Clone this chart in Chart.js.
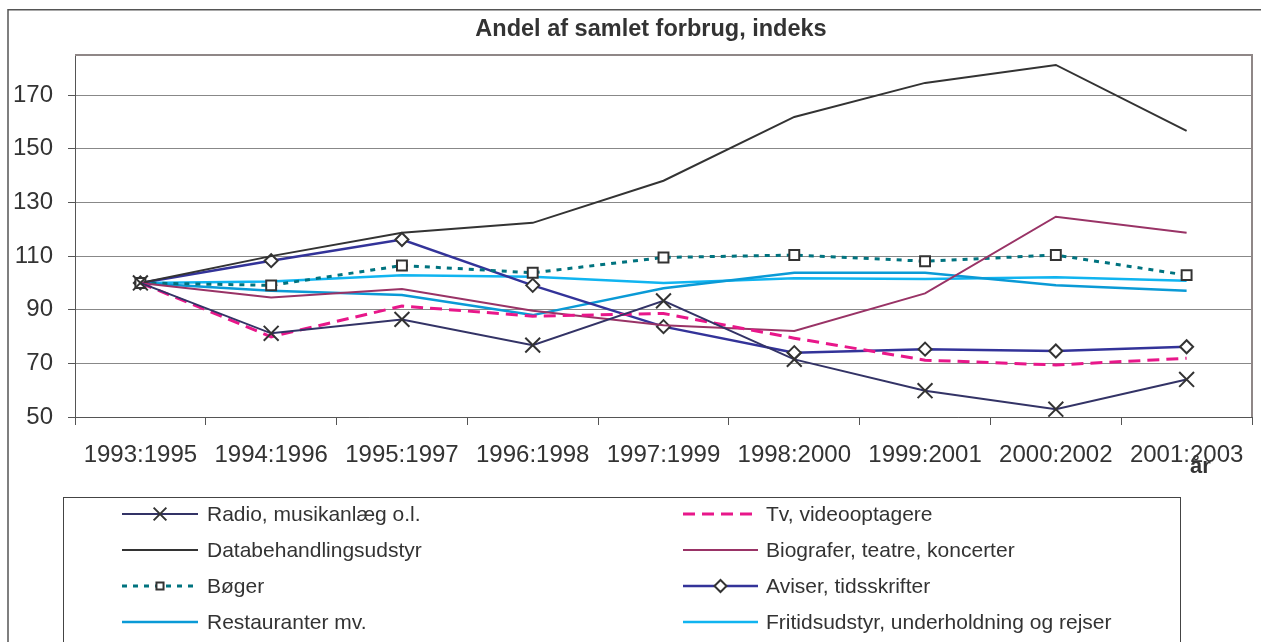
<!DOCTYPE html>
<html><head><meta charset="utf-8">
<script src="https://cdn.jsdelivr.net/npm/chart.js"></script>
<style>
html,body{margin:0;padding:0;background:#fff;overflow:hidden;width:1261px;height:642px}
canvas{position:absolute;left:0;top:0}
</style></head>
<body>
<canvas id="c" width="1302" height="642"></canvas>
<script>
const categories = ['1993:1995','1994:1996','1995:1997','1996:1998','1997:1999','1998:2000','1999:2001','2000:2002','2001:2003'];
const radio      = [100, 81.2, 86.4, 76.8, 93.3, 71.5, 59.8, 52.9, 64.0];
const tv         = [100, 79.9, 91.4, 87.6, 88.6, 79.4, 71.2, 69.4, 71.9];
const databeh    = [100, 110.0, 118.7, 122.4, 138.1, 161.9, 174.6, 181.3, 156.7];
const biografer  = [100, 94.6, 97.7, 89.6, 84.2, 82.1, 96.1, 124.7, 118.7];
const boeger     = [100, 99.1, 106.5, 103.8, 109.5, 110.4, 108.1, 110.4, 102.9];
const aviser     = [100, 108.3, 116.2, 99.1, 83.7, 74.0, 75.3, 74.6, 76.2];
const restaurant = [100, 97.1, 95.5, 88.0, 98.0, 103.8, 103.8, 99.1, 97.1];
const fritid     = [100, 100.5, 102.9, 102.3, 100.0, 101.7, 101.5, 102.1, 100.8];
const seriesNames = ['Radio, musikanlæg o.l.','Tv, videooptagere','Databehandlingsudstyr','Biografer, teatre, koncerter','Bøger','Aviser, tidsskrifter','Restauranter mv.','Fritidsudstyr, underholdning og rejser'];
const yTicks = [50, 70, 90, 110, 130, 150, 170];
const chartTitle = 'Andel af samlet forbrug, indeks';
const xAxisTitle = 'år';

const FONT = '"Liberation Sans", Arial, Helvetica, sans-serif';

const decorPlugin = {
  id: 'decor',
  beforeDatasetsDraw(chart) {
    const {ctx, chartArea: a} = chart;
    ctx.save();
    ctx.strokeStyle = '#8f8787';
    ctx.lineWidth = 2;
    ctx.beginPath();
    ctx.moveTo(a.left, a.top);
    ctx.lineTo(a.right, a.top);
    ctx.lineTo(a.right, a.bottom);
    ctx.stroke();
    ctx.restore();
  },
  afterDraw(chart) {
    const ctx = chart.ctx;
    ctx.save();
    // outer frame
    ctx.strokeStyle = '#555';
    ctx.lineWidth = 1.5;
    ctx.strokeRect(8, 9.75, 1400, 800);
    // chart title
    ctx.fillStyle = '#333';
    ctx.font = 'bold 23.5px ' + FONT;
    ctx.textAlign = 'center';
    ctx.textBaseline = 'middle';
    ctx.fillText(chartTitle, 651, 30);
    // x axis title
    ctx.font = 'bold 22px ' + FONT;
    ctx.textBaseline = 'alphabetic';
    ctx.textAlign = 'left';
    ctx.fillText(xAxisTitle, 1190, 473);
    // legend box
    ctx.strokeStyle = '#444';
    ctx.lineWidth = 1;
    ctx.strokeRect(63.5, 497.5, 1117, 300);
    const cols = [{x0: 122, x1: 198, tx: 207}, {x0: 683, x1: 758, tx: 766}];
    const rows = [514, 550, 586, 622];
    chart.data.datasets.forEach((ds, i) => {
      const c = cols[i % 2], y = rows[Math.floor(i / 2)];
      ctx.save();
      ctx.strokeStyle = ds.borderColor;
      ctx.lineWidth = ds.borderWidth;
      ctx.setLineDash(ds.borderDash || []);
      ctx.beginPath();
      ctx.moveTo(c.x0, y);
      ctx.lineTo(c.x1, y);
      ctx.stroke();
      ctx.restore();
      if (ds.pointRadius > 0 && Chart.helpers && Chart.helpers.drawPoint) {
        ctx.save();
        ctx.strokeStyle = ds.pointBorderColor;
        ctx.fillStyle = ds.pointBackgroundColor;
        ctx.lineWidth = ds.pointBorderWidth;
        ctx.setLineDash([]);
        Chart.helpers.drawPoint(ctx, {pointStyle: ds.pointStyle, radius: ds.legendPointRadius, borderWidth: ds.pointBorderWidth, rotation: 0}, (c.x0 + c.x1) / 2, y);
        ctx.restore();
      }
      ctx.fillStyle = '#333';
      ctx.font = '21px ' + FONT;
      ctx.textAlign = 'left';
      ctx.textBaseline = 'middle';
      ctx.fillText(ds.label, c.tx, y + 1);
    });
    ctx.restore();
  }
};

const seriesData = [radio, tv, databeh, biografer, boeger, aviser, restaurant, fritid];
const styles = [
  {borderColor: '#333366', borderWidth: 2, pointStyle: 'crossRot', pointRadius: 10.5, legendPointRadius: 9, pointBorderColor: '#333', pointBackgroundColor: '#333', pointBorderWidth: 2},
  {borderColor: '#e8178a', borderWidth: 3, borderDash: [12, 7], pointRadius: 0},
  {borderColor: '#333333', borderWidth: 2, pointRadius: 0},
  {borderColor: '#993366', borderWidth: 2, pointRadius: 0},
  {borderColor: '#00737f', borderWidth: 3, borderDash: [5, 6], pointStyle: 'rect', pointRadius: 7, legendPointRadius: 5, pointBorderColor: '#333', pointBackgroundColor: '#fff', pointBorderWidth: 2},
  {borderColor: '#333399', borderWidth: 2.5, pointStyle: 'rectRot', pointRadius: 6.5, legendPointRadius: 6, pointBorderColor: '#333', pointBackgroundColor: '#fff', pointBorderWidth: 2},
  {borderColor: '#0a9ad6', borderWidth: 2.5, pointRadius: 0},
  {borderColor: '#10b4f0', borderWidth: 2.5, pointRadius: 0}
];

const datasets = seriesNames.map((name, i) => Object.assign({
  label: name,
  data: seriesData[i],
  fill: false,
  tension: 0,
  pointHoverRadius: 0,
  clip: false
}, styles[i]));

new Chart(document.getElementById('c'), {
  type: 'line',
  data: {labels: categories, datasets},
  options: {
    responsive: false,
    animation: false,
    events: [],
    layout: {padding: {top: 55, left: 0, right: 50, bottom: 145}},
    plugins: {
      legend: {display: false},
      tooltip: {enabled: false},
      title: {display: false}
    },
    scales: {
      x: {
        type: 'category',
        offset: true,
        grid: {drawOnChartArea: false, drawTicks: true, tickLength: 8, tickColor: '#555', offset: true},
        border: {display: true, color: '#555', width: 1},
        ticks: {font: {size: 24, family: FONT}, color: '#333', padding: 16, maxRotation: 0, autoSkip: false},
        afterFit(s) { s.height = 80; }
      },
      y: {
        min: 50,
        max: 185,
        ticks: {stepSize: 20, font: {size: 24, family: FONT}, color: '#333', padding: 15},
        afterBuildTicks(s) { s.ticks = yTicks.map(v => ({value: v})); },
        grid: {color: '#888', lineWidth: 1, tickLength: 7, tickColor: '#555', drawTicks: true},
        border: {display: true, color: '#555', width: 1},
        afterFit(s) { s.width = 75; }
      }
    }
  },
  plugins: [decorPlugin]
});
</script>
</body></html>
